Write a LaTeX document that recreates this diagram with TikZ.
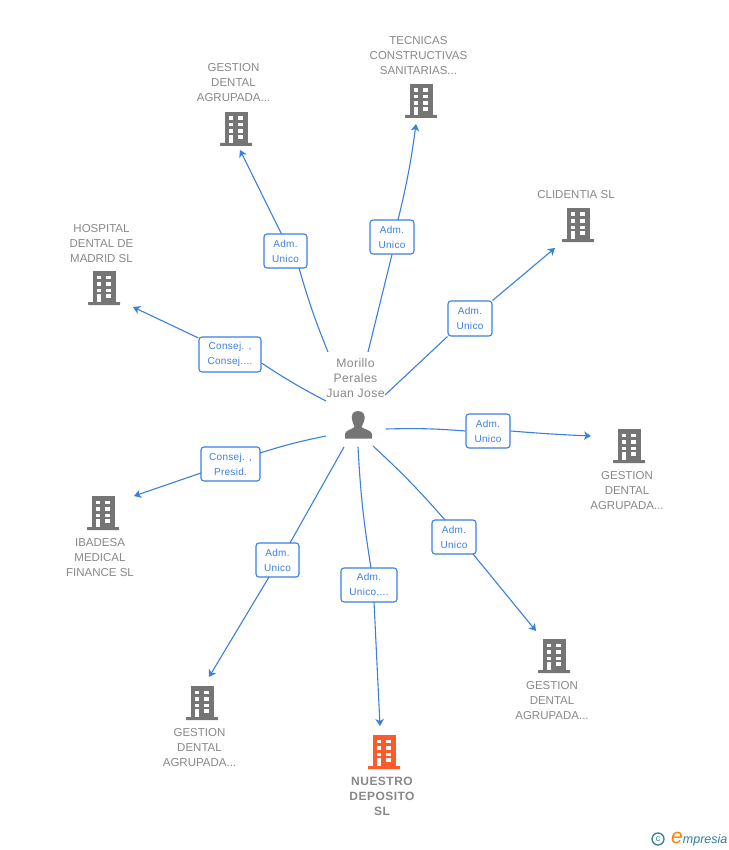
\documentclass[tikz,border=0pt]{standalone}
\usepackage{fontspec}
\setmainfont{Liberation Sans}
\usetikzlibrary{arrows.meta,positioning}
\definecolor{linkblue}{HTML}{3B7FDF}
\definecolor{bldggray}{HTML}{757575}
\definecolor{textgray}{HTML}{888888}
\definecolor{bldgorange}{HTML}{FF5A2B}
\definecolor{logoteal}{HTML}{2F7F96}
\tikzset{
	linkline/.style={draw=linkblue,line width=1.1pt},
	linkarrow/.style={linkline,-{Stealth[length=7pt,width=8.5pt,inset=2pt]}},
	rolebox/.style={draw=linkblue,fill=white,rounded corners=3pt,line width=1.1pt,inner sep=0pt,
		align=center,text=linkblue,font=\fontsize{10}{15}\selectfont\addfontfeature{LetterSpace=3}},
	firmlabel/.style={align=center,text=textgray,font=\fontsize{11.5}{15}\selectfont},
	bldg/.pic={
		\fill[pic actions] (-11.5,-34) rectangle (11.5,-3);
		\fill[pic actions,rounded corners=0.5pt] (-16,-3) rectangle (16,0);
		\fill[white] (-7.5,-29.5) rectangle (-3,-26);
		\fill[white] (2,-29.5) rectangle (7,-26);
		\fill[white] (-7.5,-23) rectangle (-3,-19.5);
		\fill[white] (2,-23) rectangle (7,-19.5);
		\fill[white] (-7.5,-16.5) rectangle (-3,-13);
		\fill[white] (2,-16.5) rectangle (7,-13);
		\fill[white] (-7.5,-11) rectangle (-3,-3);
		\fill[white] (2,-11) rectangle (7,-7);
	}
}
\begin{document}
\begin{tikzpicture}[x=1pt,y=-1pt]
	\useasboundingbox (0,0) rectangle (728,850);

	% buildings
	\pic[fill=bldggray] (gtl) at (236,146) {bldg};
	\pic[fill=bldggray] (tec) at (421,118) {bldg};
	\pic[fill=bldggray] (cli) at (578,242) {bldg};
	\pic[fill=bldggray] (hos) at (104,305) {bldg};
	\pic[fill=bldggray] (gri) at (629,463) {bldg};
	\pic[fill=bldggray] (glr) at (554,673) {bldg};
	\pic[fill=bldgorange] (nue) at (384,769) {bldg};
	\pic[fill=bldggray] (gll) at (202,720) {bldg};
	\pic[fill=bldggray] (iba) at (103,530) {bldg};

	\node[firmlabel] (gtllabel) at (233.5,83) {GESTION\\DENTAL\\AGRUPADA...};
	\node[firmlabel] (teclabel) at (418.5,56) {TECNICAS\\CONSTRUCTIVAS\\SANITARIAS...};
	\node[firmlabel] (clilabel) at (576,195) {CLIDENTIA SL};
	\node[firmlabel] (hoslabel) at (101.5,244) {HOSPITAL\\DENTAL DE\\MADRID SL};
	\node[firmlabel] (grilabel) at (627,491) {GESTION\\DENTAL\\AGRUPADA...};
	\node[firmlabel] (glrlabel) at (552,701) {GESTION\\DENTAL\\AGRUPADA...};
	\node[firmlabel] (glllabel) at (199.5,748) {GESTION\\DENTAL\\AGRUPADA...};
	\node[firmlabel] (ibalabel) at (100,558) {IBADESA\\MEDICAL\\FINANCE SL};
	\node[firmlabel,font=\fontsize{12}{15}\selectfont\bfseries\addfontfeature{LetterSpace=4}] (nuelabel) at (382,796) {NUESTRO\\DEPOSITO\\SL};

	% the person
	\node[firmlabel,font=\fontsize{12.2}{15}\selectfont\addfontfeature{LetterSpace=3}] (morillo) at (355.5,378) {Morillo\\Perales\\Juan Jose};
	\fill[bldggray] (358,411) .. controls (352,411) and (351.5,416) .. (352,419)
		.. controls (352.5,423) and (354,425) .. (354.5,427)
		.. controls (352,429.5) and (345.5,430) .. (345,434)
		-- (345,438.5) -- (372,438.5) -- (372,434)
		.. controls (371.5,430) and (364,429.5) .. (361.5,427)
		.. controls (362,425) and (364,423) .. (364.5,419)
		.. controls (365,416) and (364,411) .. (358,411) -- cycle;

	% free ends round the person
	\coordinate (shos) at (326,401);
	\coordinate (sgtl) at (328,352);
	\coordinate (stec) at (368,352);
	\coordinate (scli) at (385,395);
	\coordinate (sgri) at (386,429);
	\coordinate (sglr) at (373,446);
	\coordinate (snue) at (358,447);
	\coordinate (sgll) at (344,447);
	\coordinate (siba) at (326,436);

	% free ends at the buildings
	\coordinate (thos) at (133,307);
	\coordinate (tgtl) at (240,150);
	\coordinate (ttec) at (416,124);
	\coordinate (tcli) at (555,248);
	\coordinate (tgri) at (591,436);
	\coordinate (tglr) at (536,631);
	\coordinate (tnue) at (380,726);
	\coordinate (tgll) at (209,677);
	\coordinate (tiba) at (134,496);

	% role boxes
	\node[rolebox,minimum width=62pt,minimum height=35pt] (rhos) at (230,354.5) {Consej. ,\\Consej....};
	\node[rolebox,minimum width=43pt,minimum height=34pt] (rgtl) at (285.5,251) {Adm.\\Unico};
	\node[rolebox,minimum width=44pt,minimum height=34pt] (rtec) at (392,237) {Adm.\\Unico};
	\node[rolebox,minimum width=44pt,minimum height=35pt] (rcli) at (470,318.5) {Adm.\\Unico};
	\node[rolebox,minimum width=44pt,minimum height=34pt] (rgri) at (488,431) {Adm.\\Unico};
	\node[rolebox,minimum width=44pt,minimum height=34pt] (rglr) at (454,537) {Adm.\\Unico};
	\node[rolebox,minimum width=56pt,minimum height=34pt] (rnue) at (369,585) {Adm.\\Unico,...};
	\node[rolebox,minimum width=43pt,minimum height=34pt] (rgll) at (277.5,560) {Adm.\\Unico};
	\node[rolebox,minimum width=59pt,minimum height=34pt] (riba) at (230.5,464) {Consej. ,\\Presid.};

	% connectors
	\draw[linkline] (shos) to[bend left=3] (rhos.east|-0,363);
	\draw[linkarrow] (rhos.west|-0,338) -- (thos);
	\draw[linkline] (sgtl) to[bend left=3] (299,268);
	\draw[linkarrow] (rgtl.north|-0,234) ++(-4,0) -- (tgtl);
	\draw[linkline] (stec) -- (rtec.south);
	\draw[linkarrow] (398,220) to[bend right=3] (ttec);
	\draw[linkline] (scli) -- (rcli.south west);
	\draw[linkarrow] (rcli.north east) -- (tcli);
	\draw[linkline] (sgri) to[bend left=3] (rgri.west);
	\draw[linkarrow] (rgri.east) to[bend right=1] (tgri);
	\draw[linkline] (sglr) to[bend left=3] (445,520);
	\draw[linkarrow] (473,554) -- (tglr);
	\draw[linkline] (snue) to[bend right=3] (371,568);
	\draw[linkarrow] (374,602) -- (tnue);
	\draw[linkline] (sgll) -- (290,543);
	\draw[linkarrow] (269,577) -- (tgll);
	\draw[linkline] (siba) to[bend right=3] (260,453);
	\draw[linkarrow] (201,473) -- (tiba);

	% logo
	\node[draw=logoteal,circle,line width=1.3pt,minimum size=12pt,inner sep=0pt,text=logoteal,font=\fontsize{9}{9}\selectfont] (copy) at (658,839) {c};
	\node[inner sep=0pt,anchor=base west,text=logoteal,font=\itshape\fontsize{12.5}{13}\selectfont] (logo) at (671,843.5) {\textcolor{orange}{\fontsize{21}{21}\selectfont e}mpresia};
\end{tikzpicture}
\end{document}
